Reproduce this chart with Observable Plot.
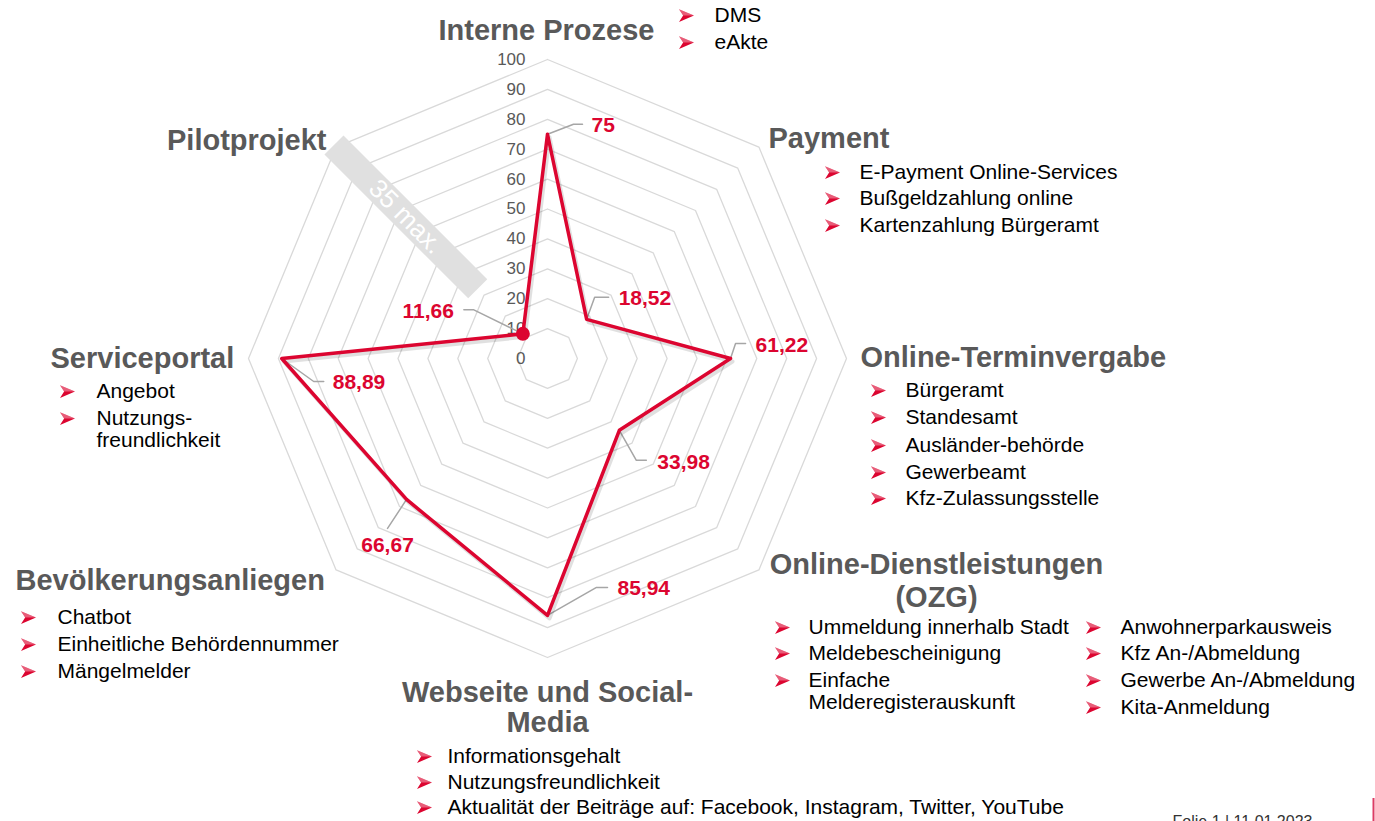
<!DOCTYPE html>
<html>
<head>
<meta charset="utf-8">
<script src="https://cdn.jsdelivr.net/npm/d3@7"></script>
<script src="https://cdn.jsdelivr.net/npm/@observablehq/plot@0.6"></script>
<style>
  html, body { margin: 0; padding: 0; background: #fff; overflow: hidden; }
  #chart svg { display: block; }
</style>
</head>
<body>
<div id="chart"></div>
<script>
// ---------------- DATA ----------------
const categories = ["Interne Prozese", "Payment", "Online-Terminvergabe", "Online-Dienstleistungen (OZG)",
  "Webseite und Social-Media", "Bevölkerungsanliegen", "Serviceportal", "Pilotprojekt"];
const values = [75, 18.52, 61.22, 33.98, 85.94, 66.67, 88.89, 11.66];
const gridLevels = [10, 20, 30, 40, 50, 60, 70, 80, 90, 100];
const tickLabels = [0, 10, 20, 30, 40, 50, 60, 70, 80, 90, 100];
const pilotMaxText = "35 max.";
const titleLines = [
  ["Interne Prozese"], ["Payment"], ["Online-Terminvergabe"], ["Online-Dienstleistungen", "(OZG)"],
  ["Webseite und Social-", "Media"], ["Bevölkerungsanliegen"], ["Serviceportal"], ["Pilotprojekt"]
];
const bulletsInterne = ["DMS", "eAkte"];
const bulletsPayment = ["E-Payment Online-Services", "Bußgeldzahlung online", "Kartenzahlung Bürgeramt"];
const bulletsTermin = ["Bürgeramt", "Standesamt", "Ausländer-behörde", "Gewerbeamt", "Kfz-Zulassungsstelle"];
const bulletsOZG1 = ["Ummeldung innerhalb Stadt", "Meldebescheinigung", ["Einfache", "Melderegisterauskunft"]];
const bulletsOZG2 = ["Anwohnerparkausweis", "Kfz An-/Abmeldung", "Gewerbe An-/Abmeldung", "Kita-Anmeldung"];
const bulletsWeb = ["Informationsgehalt", "Nutzungsfreundlichkeit", "Aktualität der Beiträge auf: Facebook, Instagram, Twitter, YouTube"];
const bulletsBev = ["Chatbot", "Einheitliche Behördennummer", "Mängelmelder"];
const bulletsService = ["Angebot", ["Nutzungs-", "freundlichkeit"]];
const footerText = "Folie 1 | 11.01.2023";

// ---------------- LAYOUT (annotation placement, px) ----------------
const CX = 547, CY = 358, K = 2.99; // centre and px per unit
const ux = px => (px - CX) / K;
const uy = py => (CY - py) / K;
const W = 1375, H = 821;

const RED = "#dc0530", GRID = "#d9d9d9", TITLE = "#595959", LEADER = "#a6a6a6";

// value-label offsets relative to each data point (px)
const labelLayout = [
  {elbow: [26, -10], end: [35, -10], text: [44, -9], anchor: "start"},
  {elbow: [8, -22], end: [22, -22], text: [32, -21], anchor: "start"},
  {elbow: [5, -15], end: [15, -15], text: [25, -13], anchor: "start"},
  {elbow: [17, 30], end: [27, 30], text: [38, 32], anchor: "start"},
  {elbow: [49, -28], end: [60, -28], text: [70, -27], anchor: "start"},
  {elbow: [-19, 29], end: [-19, 29], text: [-19, 46], anchor: "middle"},
  {elbow: [32, 23], end: [42, 23], text: [51, 24], anchor: "start"},
  {elbow: [-49, -24], end: [-59, -24], text: [-69, -23], anchor: "end"}
];
// category titles
const titleLayout = [
  {x: 438, ys: [30], anchor: "start"},
  {x: 768, ys: [138], anchor: "start"},
  {x: 860, ys: [357], anchor: "start"},
  {x: 936, ys: [564, 597], anchor: "middle"},
  {x: 547, ys: [692, 722], anchor: "middle"},
  {x: 15, ys: [580], anchor: "start"},
  {x: 50, ys: [358], anchor: "start"},
  {x: 326, ys: [140], anchor: "end"}
];
const bulletGroups = [
  {items: bulletsInterne, arrowX: 686, textX: 714, ys: [15, 42]},
  {items: bulletsPayment, arrowX: 832, textX: 859, ys: [172, 198, 225]},
  {items: bulletsTermin, arrowX: 878, textX: 905, ys: [390, 417, 445, 472, 498]},
  {items: bulletsOZG1, arrowX: 782, textX: 808, ys: [627, 653, 680]},
  {items: bulletsOZG2, arrowX: 1093, textX: 1120, ys: [627, 653, 680, 707]},
  {items: bulletsWeb, arrowX: 424, textX: 447, ys: [756, 782, 807]},
  {items: bulletsBev, arrowX: 28, textX: 57, ys: [617, 644, 671]},
  {items: bulletsService, arrowX: 67, textX: 96, ys: [391, 418]}
];
const wrapGap = 22;
const bannerRange = [33, 101], bannerTextR = 67;

// ---------------- BUILD ----------------
const n = categories.length;
const ang = i => i * 2 * Math.PI / n;
const polar = (i, r) => ({x: r * Math.sin(ang(i)), y: r * Math.cos(ang(i))});

const grid = [];
for (const lv of gridLevels) for (let i = 0; i <= n; i++) grid.push({level: lv, ...polar(i % n, lv)});

const pts = values.map((v, i) => ({cat: categories[i], v, ...polar(i, v)}));
const poly = [...pts, pts[0]];

const fmt = v => Number.isInteger(v) ? String(v) : v.toFixed(2).replace(".", ",");
const off = (p, o) => ({x: p.x + o[0] / K, y: p.y - o[1] / K});
const leaders = [];
pts.forEach((p, i) => {
  const L = labelLayout[i];
  leaders.push({k: i, x: p.x, y: p.y});
  leaders.push({k: i, ...off(p, L.elbow)});
  leaders.push({k: i, ...off(p, L.end)});
});
const valueLabels = pts.map((p, i) => ({label: fmt(p.v), anchor: labelLayout[i].anchor, ...off(p, labelLayout[i].text)}));

const titles = [];
titleLines.forEach((lines, i) => lines.forEach((t, j) => titles.push({t, x: ux(titleLayout[i].x), y: uy(titleLayout[i].ys[j]), anchor: titleLayout[i].anchor})));

const bulletText = [], arrows = [];
for (const g of bulletGroups) {
  g.items.forEach((it, j) => {
    const lines = Array.isArray(it) ? it : [it];
    arrows.push({x: ux(g.arrowX), y: uy(g.ys[j])});
    lines.forEach((t, m) => bulletText.push({t, x: ux(g.textX), y: uy(g.ys[j] + m * wrapGap)}));
  });
}

// arrowhead bullet symbol (like Wingdings Ø)
const arrowHead = {
  draw(ctx, size) {
    const r = Math.sqrt(size / Math.PI);
    ctx.moveTo(-r, -r * 0.85);
    ctx.lineTo(r, 0);
    ctx.lineTo(-r, r * 0.85);
    ctx.lineTo(-r * 0.45, 0);
    ctx.closePath();
  }
};
const arrowHi = {
  draw(ctx, size) {
    const r = Math.sqrt(size / Math.PI);
    ctx.moveTo(-r, -r * 0.85);
    ctx.lineTo(r, 0);
    ctx.lineTo(-r * 0.45, 0);
    ctx.closePath();
  }
};

const pilotIdx = n - 1;
const banner = bannerRange.map(r => polar(pilotIdx, r));
const bannerText = [{t: pilotMaxText, ...polar(pilotIdx, bannerTextR)}];

const chart = Plot.plot({
  width: W, height: H, margin: 0,
  x: {domain: [ux(0), ux(W)], range: [0, W], axis: null},
  y: {domain: [uy(H), uy(0)], range: [H, 0], axis: null},
  style: {fontFamily: "'Liberation Sans', Arial, sans-serif", background: "#fff", overflow: "hidden"},
  marks: [
    Plot.line(grid, {x: "x", y: "y", z: "level", stroke: GRID, strokeWidth: 1.3}),
    Plot.line(banner, {x: "x", y: "y", stroke: "#e0e0e0", strokeWidth: 27, strokeLinecap: "butt"}),
    Plot.text(bannerText, {x: "x", y: "y", text: "t", rotate: 45, fill: "#fff", fontSize: 26}),
    Plot.text(tickLabels, {x: () => 0, y: d => d, text: d => String(d), dx: -22, textAnchor: "end", fontSize: 17, fill: TITLE}),
    Plot.line(leaders, {x: "x", y: "y", z: "k", stroke: LEADER, strokeWidth: 1.5, curve: "linear"}),
    Plot.line(poly, {x: "x", y: "y", stroke: "#000", strokeOpacity: 0.12, strokeWidth: 4, dx: 2, dy: 3, strokeLinejoin: "round"}),
    Plot.line(poly, {x: "x", y: "y", stroke: RED, strokeWidth: 3.5, strokeLinejoin: "round"}),
    Plot.dot([pts[pilotIdx]], {x: "x", y: "y", r: 7, fill: RED, stroke: null}),
    ...["start", "middle", "end"].map(a => Plot.text(valueLabels.filter(d => d.anchor === a), {
      x: "x", y: "y", text: "label", textAnchor: a, fontSize: 21, fontWeight: "bold", fill: RED
    })),
    ...["start", "middle", "end"].map(a => Plot.text(titles.filter(d => d.anchor === a), {
      x: "x", y: "y", text: "t", textAnchor: a, fontSize: 29, fontWeight: "bold", fill: TITLE
    })),
    Plot.text(bulletText, {x: "x", y: "y", text: "t", textAnchor: "start", fontSize: 21, fill: "#000"}),
    Plot.dot(arrows, {x: "x", y: "y", symbol: arrowHead, r: 7.5, fill: RED, stroke: null}),
    Plot.dot(arrows, {x: "x", y: "y", symbol: arrowHi, r: 7.5, fill: "#fff", fillOpacity: 0.35, stroke: null}),
    Plot.text([footerText], {x: () => ux(1172), y: () => uy(821), text: d => d, textAnchor: "start", fontSize: 16, fill: "#333"}),
    Plot.ruleX([0], {x: () => ux(1373), y1: () => uy(798), y2: () => uy(H), stroke: "#dc3c64", strokeWidth: 2})
  ]
});
document.getElementById("chart").appendChild(chart);
</script>
</body>
</html>
